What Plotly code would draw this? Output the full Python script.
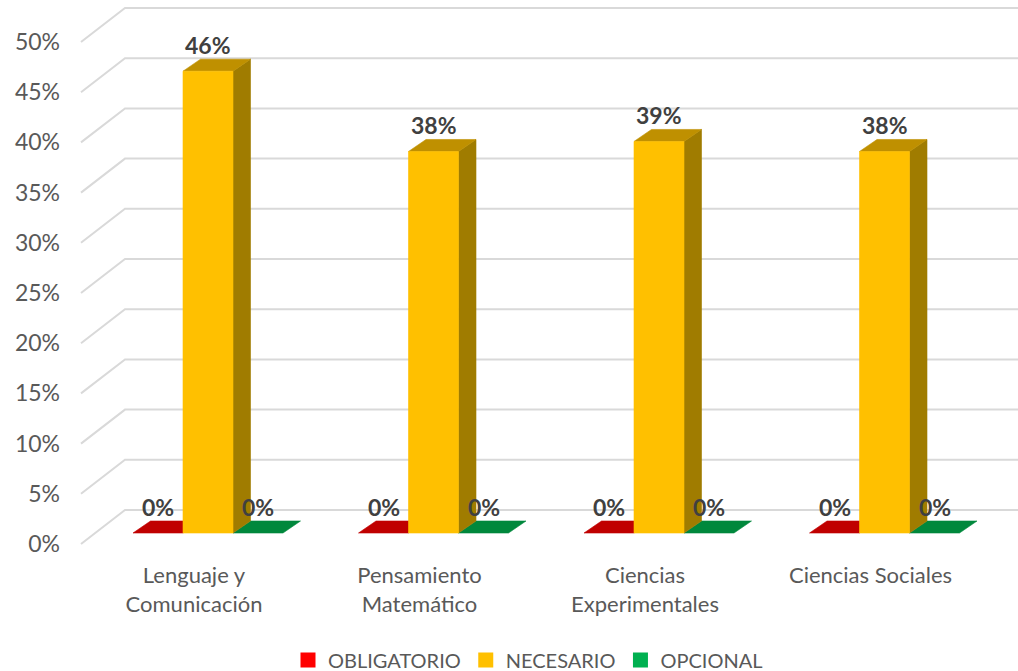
import plotly.graph_objects as go

# ---- data ----
categories = ["Lenguaje y<br>Comunicación", "Pensamiento<br>Matemático",
              "Ciencias<br>Experimentales", "Ciencias Sociales"]
series_names = ["OBLIGATORIO", "NECESARIO", "OPCIONAL"]
obligatorio = [0, 0, 0, 0]
necesario = [46, 38, 39, 38]
opcional = [0, 0, 0, 0]
y_ticks = [0, 5, 10, 15, 20, 25, 30, 35, 40, 45, 50]
y_tick_labels = ["0%", "5%", "10%", "15%", "20%", "25%", "30%", "35%", "40%", "45%", "50%"]

series_values = [obligatorio, necesario, opcional]

# ---- styling ----
FONT = "Lato"
front_colors = ["#FF0000", "#FFC000", "#00B050"]
top_colors = ["#C00000", "#BF9000", "#00883C"]
side_colors = ["#A00000", "#A07C00", "#006E30"]

W, H = 1018, 671
M_L, M_R, M_T, M_B = 70, 0, 0, 111

# pixel scale of the axes (front plane)
SX = 225.5      # px per category step
SY = 10.04      # px per percentage point
CAT0_PX = 194   # pixel of the first category on the front plane
ZERO_PX = 544   # pixel of 0% on the front plane


def dx(p):
    return p / SX


def dy(p):
    return p / SY


x_range = [(M_L - CAT0_PX) / SX, (W - M_R - CAT0_PX) / SX]
y_range = [(ZERO_PX - (H - M_B)) / SY, (ZERO_PX - M_T) / SY]

# 3D projection parameters
WALL_DX, WALL_DY = dx(44), dy(34)      # depth of the back wall
BAR_DX0, BAR_DY0 = dx(14), dy(11)      # bar front plane offset
BAR_DDX, BAR_DDY = dx(17.5), dy(12)    # bar depth
BAR_W = dx(50)
SERIES_SHIFT = dx(50)

fig = go.Figure()

# ---- walls / gridlines ----
gx, gy = [], []
x_left = (81 - CAT0_PX) / SX
for t in y_ticks:
    gx += [x_left, x_left + WALL_DX, x_range[1], None]
    gy += [t, t + WALL_DY, t + WALL_DY, None]
fig.add_trace(go.Scatter(x=gx, y=gy, mode="lines",
                         line=dict(color="#D9D9D9", width=2),
                         hoverinfo="skip", showlegend=False))


def poly(xs, ys, color):
    fig.add_trace(go.Scatter(x=xs + [xs[0]], y=ys + [ys[0]], mode="lines",
                             fill="toself", fillcolor=color,
                             line=dict(width=0.6, color=color),
                             hoverinfo="skip", showlegend=False))


annotations = []
# draw per category: flat (zero) bars first, tall middle bar last
for i in range(len(categories)):
    order = sorted(range(3), key=lambda k: series_values[k][i])
    for k in order:
        v = series_values[k][i]
        cx = i + BAR_DX0 + (k - 1) * SERIES_SHIFT
        x0, x1 = cx - BAR_W / 2, cx + BAR_W / 2
        y0 = BAR_DY0
        y1 = y0 + v
        if v > 0:
            # side face
            poly([x1, x1 + BAR_DDX, x1 + BAR_DDX, x1],
                 [y0, y0 + BAR_DDY, y1 + BAR_DDY, y1], side_colors[k])
        # top face
        poly([x0, x1, x1 + BAR_DDX, x0 + BAR_DDX],
             [y1, y1, y1 + BAR_DDY, y1 + BAR_DDY], top_colors[k])
        if v > 0:
            # front face
            poly([x0, x1, x1, x0], [y0, y0, y1, y1], front_colors[k])
        annotations.append(dict(
            x=cx, y=y1 + BAR_DDY + dy(14.5), text=f"{v}%",
            showarrow=False, xanchor="center", yanchor="middle",
            font=dict(family=FONT, size=23, color="#404040", weight="bold")))

# ---- legend entries ----
for k, name in enumerate(series_names):
    fig.add_trace(go.Scatter(x=[None], y=[None], mode="markers", name=name,
                             marker=dict(symbol="square", size=15,
                                         color=front_colors[k])))

fig.update_layout(
    width=W, height=H,
    margin=dict(l=M_L, r=M_R, t=M_T, b=M_B, autoexpand=False),
    paper_bgcolor="white", plot_bgcolor="white",
    font=dict(family=FONT, color="#595959"),
    annotations=annotations,
    showlegend=True,
    legend=dict(orientation="h", xref="container", yref="container",
                x=528 / W, xanchor="center",
                y=1 - 660 / H, yanchor="middle",
                itemwidth=30,
                font=dict(family=FONT, size=20, color="#595959")),
    xaxis=dict(range=x_range, showgrid=False, zeroline=False, showline=False,
               tickvals=list(range(len(categories))), ticktext=categories,
               tickfont=dict(family=FONT, size=22, color="#595959"),
               ticks="", fixedrange=True),
    yaxis=dict(range=y_range, showgrid=False, zeroline=False, showline=False,
               tickvals=y_ticks, ticktext=y_tick_labels,
               tickfont=dict(family=FONT, size=23, color="#595959"),
               ticks="", ticklabelstandoff=9, fixedrange=True),
)

fig.write_html("out.html")
